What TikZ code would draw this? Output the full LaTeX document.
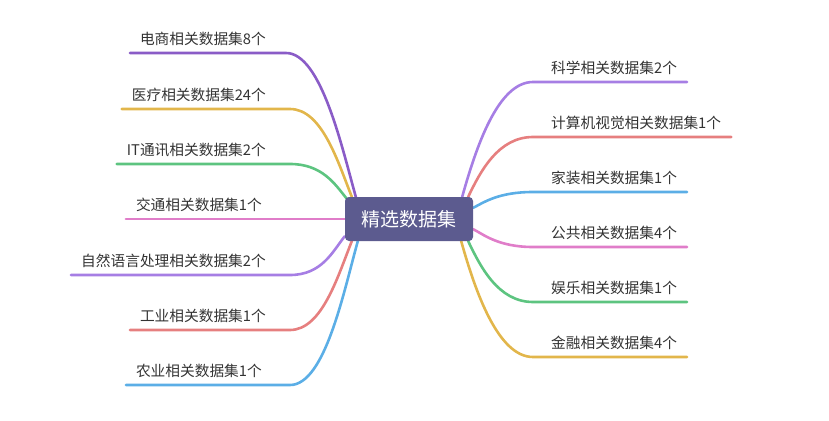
\documentclass[tikz,border=0pt]{standalone}
\usepackage{fontspec}
\setmainfont{Noto Sans CJK SC}
\usetikzlibrary{backgrounds}
\definecolor{hubfill}{HTML}{5C5B8F}
\definecolor{leaftext}{HTML}{333333}
\definecolor{cpurpled}{HTML}{8A5CC7}
\definecolor{cpurplel}{HTML}{A67EE4}
\definecolor{cyellow}{HTML}{E2B64B}
\definecolor{cgreen}{HTML}{5DC480}
\definecolor{cpink}{HTML}{E07DC9}
\definecolor{cred}{HTML}{E67F7F}
\definecolor{cblue}{HTML}{5BAEE6}

\begin{document}
\begin{tikzpicture}[x=1pt,y=-1pt,
    branch/.style={line width=2.6pt,line cap=round},
    leaf/.style={font=\fontsize{14.7}{16}\selectfont,text=leaftext,inner xsep=10pt,
        inner ysep=5.5pt,text height=11pt,text depth=3pt},
    hub/.style={fill=hubfill,rounded corners=4pt,minimum width=128pt,minimum height=44pt,
        inner sep=0pt,text=white,font=\fontsize{19}{21}\selectfont}]
    \useasboundingbox (0,0) rectangle (829,420);
    \node[hub] (hub) at (409,219) {精选数据集};
    % left side
    \node[leaf,anchor=south east] (dianshang) at (276,53) {电商相关数据集8个};
    \node[leaf,anchor=south east] (yiliao) at (276,109) {医疗相关数据集24个};
    \node[leaf,anchor=south east] (tongxun) at (276,164) {IT通讯相关数据集2个};
    \node[leaf,anchor=south east] (jiaotong) at (272,219) {交通相关数据集1个};
    \node[leaf,anchor=south east] (yuyan) at (276,275) {自然语言处理相关数据集2个};
    \node[leaf,anchor=south east] (gongye) at (276,330) {工业相关数据集1个};
    \node[leaf,anchor=south east] (nongye) at (272,385) {农业相关数据集1个};
    % right side
    \node[leaf,anchor=south west] (kexue) at (541,82) {科学相关数据集2个};
    \node[leaf,anchor=south west] (shijue) at (541,137) {计算机视觉相关数据集1个};
    \node[leaf,anchor=south west] (jiazhuang) at (541,192) {家装相关数据集1个};
    \node[leaf,anchor=south west] (gonggong) at (541,247) {公共相关数据集4个};
    \node[leaf,anchor=south west] (yule) at (541,302) {娱乐相关数据集1个};
    \node[leaf,anchor=south west] (jinrong) at (541,357) {金融相关数据集4个};
    \begin{scope}[on background layer]
        \draw[branch,cpurpled] (dianshang.south west) -- ([xshift=10pt]dianshang.south east)
            .. controls +(35,0) and +(-14,-50) .. ([xshift=11pt]hub.north west);
        \draw[branch,cyellow] (yiliao.south west) -- ([xshift=14pt]yiliao.south east)
            .. controls +(32,0) and +(-14,-35) .. ([xshift=7pt]hub.north west);
        \draw[branch,cgreen] (tongxun.south west) -- ([xshift=14pt]tongxun.south east)
            .. controls +(32,0) and +(-12,-15) .. ([xshift=2pt,yshift=-2pt]hub.north west);
        \draw[branch,cpink] (jiaotong.south west) -- (hub.west);
        \draw[branch,cpurplel] (yuyan.south west) -- ([xshift=14pt]yuyan.south east)
            .. controls +(32,0) and +(-12,15) .. ([yshift=5pt]hub.south west);
        \draw[branch,cred] (gongye.south west) -- ([xshift=14pt]gongye.south east)
            .. controls +(32,0) and +(-14,35) .. ([xshift=7pt]hub.south west);
        \draw[branch,cblue] (nongye.south west) -- ([xshift=18pt]nongye.south east)
            .. controls +(35,0) and +(-14,50) .. ([xshift=13pt]hub.south west);
        % right side
        \draw[branch,cpurplel] ([xshift=-11pt]hub.north east) .. controls +(14,-50) and +(-35,0)
            .. ([xshift=-8pt]kexue.south west) -- (kexue.south east);
        \draw[branch,cred] ([xshift=-5pt]hub.north east) .. controls +(12,-25) and +(-35,0)
            .. ([xshift=-8pt]shijue.south west) -- (shijue.south east);
        \draw[branch,cblue] ([yshift=-11pt]hub.north east) .. controls +(10,-5) and +(-35,0)
            .. ([xshift=-8pt]jiazhuang.south west) -- (jiazhuang.south east);
        \draw[branch,cpink] ([yshift=12pt]hub.south east) .. controls +(10,5) and +(-35,0)
            .. ([xshift=-8pt]gonggong.south west) -- (gonggong.south east);
        \draw[branch,cgreen] ([xshift=-5pt]hub.south east) .. controls +(12,25) and +(-35,0)
            .. ([xshift=-8pt]yule.south west) -- (yule.south east);
        \draw[branch,cyellow] ([xshift=-12pt]hub.south east) .. controls +(14,50) and +(-35,0)
            .. ([xshift=-8pt]jinrong.south west) -- (jinrong.south east);
    \end{scope}
\end{tikzpicture}
\end{document}
